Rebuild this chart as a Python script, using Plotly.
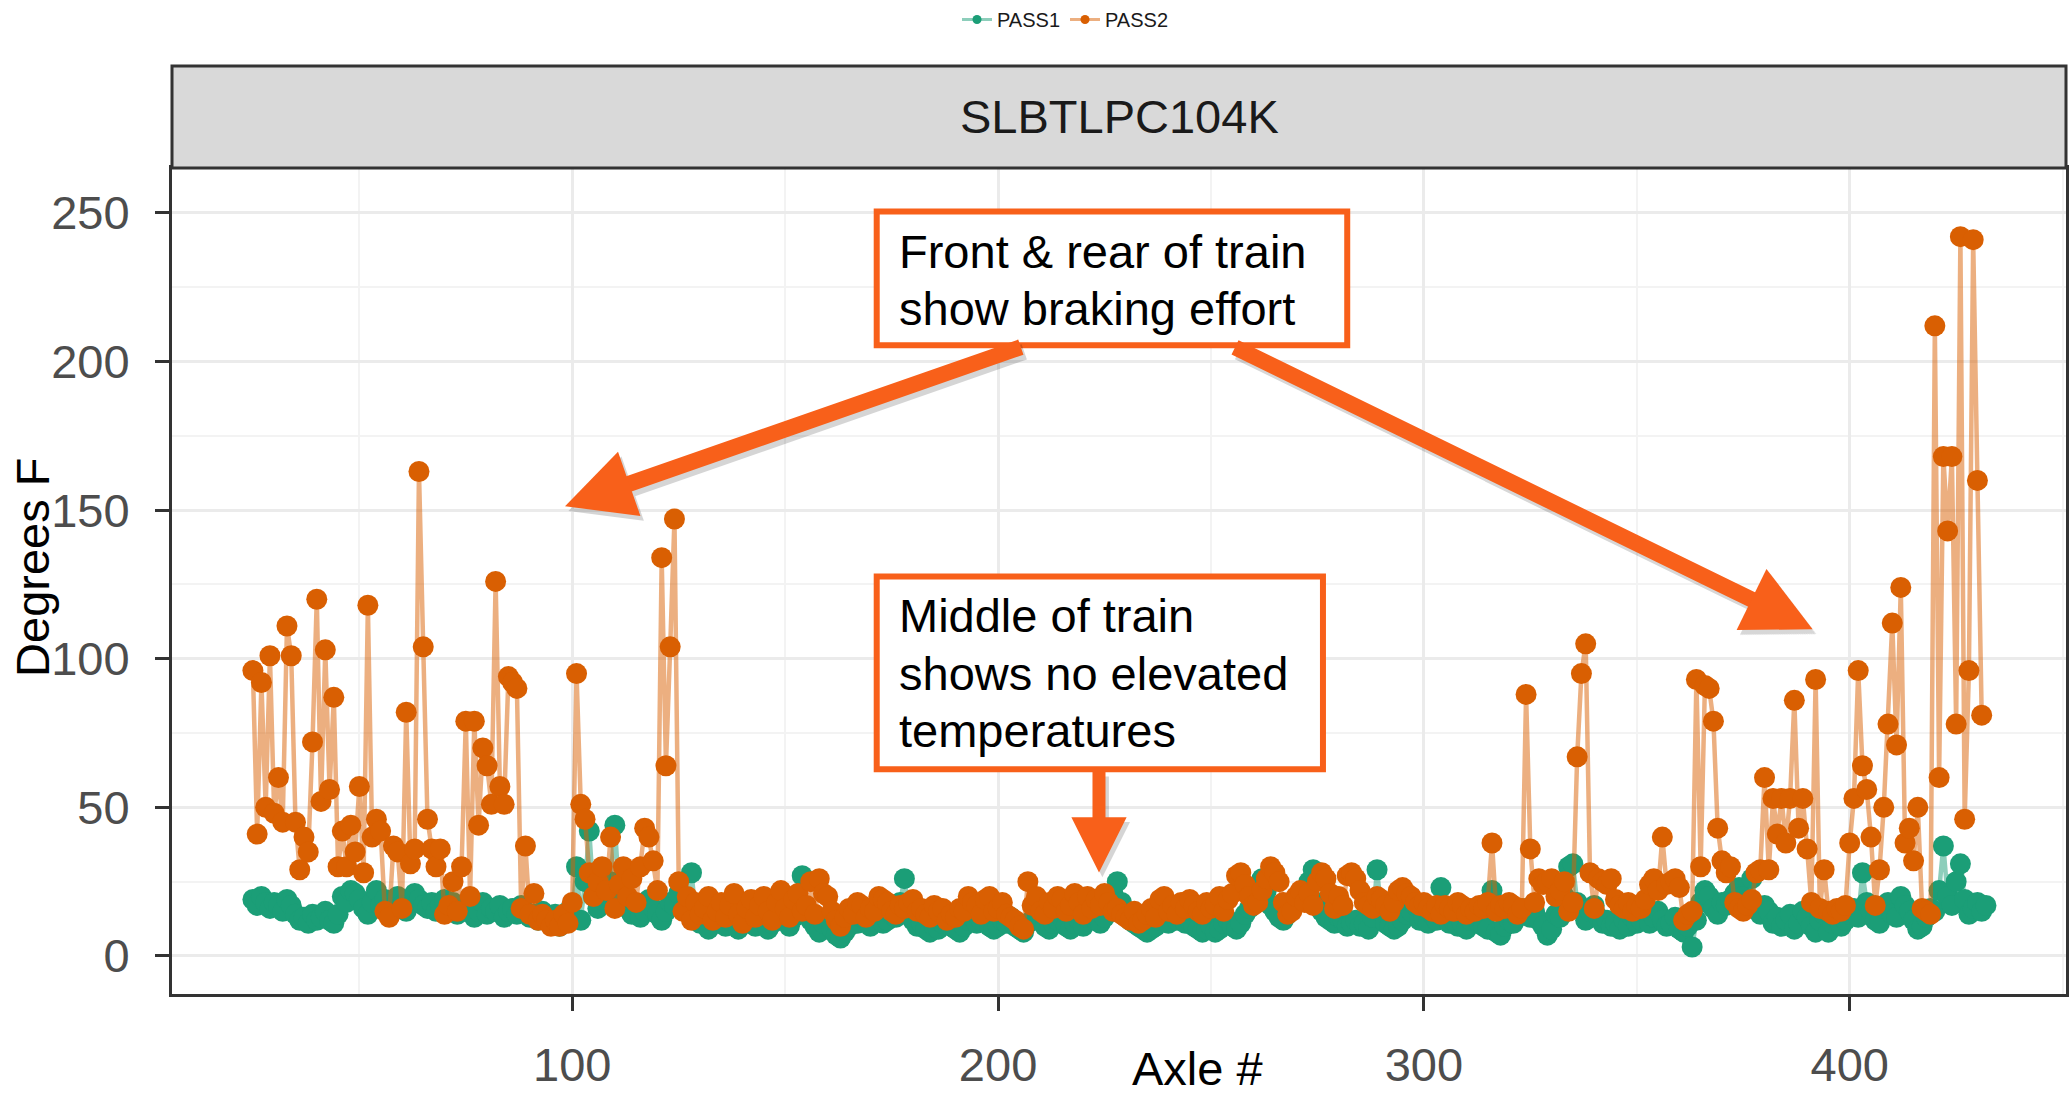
import plotly.graph_objects as go

# ---------------- data ----------------
axles = list(range(25, 433))

pass1 = [
    19, 17, 20, 18, 16, 18, 17, 15, 19, 17,   # 25
    14, 12, 13, 11, 14, 12, 13, 15, 12, 11,   # 35
    14, 20, 18, 22, 21, 19, 16, 14, 18, 22,   # 45
    17, 19, 16, 18, 20, 17, 15, 18, 21, 19,   # 55
    17, 16, 18, 15, 17, 19, 16, 18, 14, 15,   # 65
    17, 16, 13, 15, 18, 14, 16, 15, 17, 13,   # 75
    15, 16, 14, 17, 15, 13, 14, 12, 15, 13,   # 85
    11, 14, 10, 12, 15, 13, 30, 12, 25, 42,   # 95
    20, 16, 19, 22, 25, 44, 21, 18, 16, 14,   # 105
    17, 13, 15, 19, 16, 14, 12, 15, 18, 17,   # 115
    21, 16, 19, 28, 14, 11, 13, 9, 12, 15,    # 125
    13, 10, 12, 14, 9, 11, 13, 12, 10, 14,    # 135
    12, 9, 11, 13, 15, 12, 10, 13, 14, 27,    # 145
    14, 12, 10, 8, 11, 13, 9, 7, 6, 8,        # 155
    10, 12, 11, 13, 12, 10, 14, 13, 11, 12,   # 165
    14, 13, 18, 26, 15, 12, 10, 11, 9, 8,     # 175
    10, 9, 11, 12, 10, 9, 8, 10, 12, 13,      # 185
    11, 12, 14, 10, 9, 10, 12, 11, 13, 10,    # 195
    9, 8, 11, 12, 14, 13, 10, 9, 11, 12,      # 205
    13, 10, 9, 11, 12, 10, 13, 14, 12, 11,    # 215
    13, 17, 21, 25, 18, 14, 12, 11, 10, 9,    # 225
    8, 9, 10, 12, 13, 11, 14, 12, 13, 11,     # 235
    12, 10, 9, 8, 9, 10, 8, 9, 11, 12,        # 245
    10, 9, 11, 14, 16, 18, 20, 26, 22, 17,    # 255
    15, 13, 12, 14, 16, 18, 20, 22, 25, 29,   # 265
    18, 15, 13, 12, 11, 13, 12, 10, 11, 12,   # 275
    10, 11, 9, 13, 29, 15, 11, 10, 9, 10,     # 285
    12, 14, 15, 17, 12, 13, 11, 14, 12, 23,   # 295
    13, 11, 12, 10, 11, 9, 12, 13, 11, 10,    # 305
    9, 22, 8, 7, 10, 12, 11, 13, 14, 16,      # 315
    13, 15, 12, 10, 7, 9, 14, 13, 20, 30,     # 325
    31, 18, 16, 12, 15, 17, 13, 11, 12, 10,   # 335
    11, 9, 12, 10, 13, 11, 12, 14, 11, 13,    # 345
    15, 12, 10, 11, 13, 9, 8, 10, 3, 12,      # 355
    18, 22, 20, 16, 14, 18, 17, 19, 21, 23,   # 365
    20, 18, 26, 16, 14, 17, 15, 11, 13, 10,   # 375
    12, 14, 9, 11, 15, 13, 10, 8, 12, 14,     # 385
    8, 11, 13, 10, 12, 14, 16, 13, 28, 18,    # 395
    15, 12, 11, 16, 18, 14, 13, 20, 17, 15,   # 405
    12, 9, 10, 13, 16, 15, 22, 37, 20, 17,    # 415
    25, 31, 19, 14, 16, 18, 15, 17,           # 425
]

pass2 = [
    96, 41, 92, 50, 101, 48, 60, 45, 111, 101,   # 25
    45, 29, 40, 35, 72, 120, 52, 103, 56, 87,    # 35
    30, 42, 30, 44, 35, 57, 28, 118, 40, 46,     # 45
    42, 15, 13, 37, 35, 16, 82, 31, 36, 163,     # 55
    104, 46, 36, 30, 36, 14, 17, 25, 15, 30,     # 65
    79, 20, 79, 44, 70, 64, 51, 126, 57, 51,     # 75
    94, 92, 90, 16, 37, 14, 21, 12, 14, 12,      # 85
    10, 12, 10, 14, 11, 18, 95, 51, 46, 28,      # 95
    20, 25, 30, 22, 40, 16, 24, 30, 20, 26,      # 105
    18, 30, 43, 40, 32, 22, 134, 64, 104, 147,   # 115
    25, 15, 20, 12, 18, 14, 16, 20, 12, 15,      # 125
    18, 13, 17, 21, 14, 11, 16, 19, 13, 17,      # 135
    20, 15, 12, 18, 22, 16, 13, 19, 21, 15,      # 145
    17, 25, 14, 26, 21, 20, 15, 12, 10, 13,      # 155
    16, 14, 18, 17, 13, 16, 15, 20, 19, 18,      # 165
    15, 14, 17, 16, 18, 19, 15, 16, 14, 13,      # 175
    17, 15, 16, 12, 14, 13, 16, 15, 20, 18,      # 185
    17, 14, 19, 20, 15, 16, 18, 14, 13, 12,      # 195
    10, 9, 25, 17, 20, 15, 14, 18, 16, 20,       # 205
    19, 15, 17, 21, 18, 14, 20, 16, 19, 17,      # 215
    21, 18, 15, 16, 14, 13, 12, 15, 11, 12,      # 225
    14, 16, 13, 19, 20, 15, 17, 14, 18, 16,      # 235
    19, 17, 15, 14, 18, 16, 17, 20, 15, 19,      # 245
    21, 27, 28, 24, 20, 17, 18, 22, 26, 30,      # 255
    28, 25, 18, 14, 15, 20, 22, 18, 21, 17,      # 265
    25, 28, 26, 21, 16, 20, 17, 27, 28, 26,      # 275
    22, 18, 17, 16, 20, 19, 17, 15, 18, 22,      # 285
    23, 21, 20, 18, 17, 18, 16, 15, 17, 14,      # 295
    17, 16, 15, 18, 17, 14, 16, 15, 17, 16,      # 305
    18, 38, 15, 17, 16, 18, 17, 14, 16, 88,      # 315
    36, 18, 26, 24, 25, 26, 20, 22, 25, 15,      # 325
    18, 67, 95, 105, 28, 16, 26, 25, 24, 26,     # 335
    19, 17, 16, 18, 15, 17, 16, 19, 24, 26,      # 345
    22, 40, 24, 25, 26, 23, 12, 14, 15, 93,      # 355
    30, 91, 90, 79, 43, 32, 28, 30, 18, 16,      # 365
    15, 17, 19, 28, 29, 60, 29, 53, 41, 53,      # 375
    38, 53, 86, 43, 53, 36, 18, 93, 16, 29,      # 385
    15, 14, 16, 15, 17, 38, 53, 96, 64, 56,      # 395
    40, 17, 29, 50, 78, 112, 71, 124, 38, 43,    # 405
    32, 50, 16, 15, 14, 212, 60, 168, 143, 168,  # 415
    78, 242, 46, 96, 241, 160, 81,               # 425
]

series_names = ["PASS1", "PASS2"]
x_ticks = [100, 200, 300, 400]
y_ticks = [0, 50, 100, 150, 200, 250]
facet_label = "SLBTLPC104K"

# ---------------- styling ----------------
GREEN = "#1B9E77"
ORANGE = "#D95F02"
ARROW = "#F8601A"
FONT = "Liberation Sans, Arial, sans-serif"

fig = go.Figure()

for name, vals, col, lcol in [
    (series_names[0], pass1, GREEN, "rgba(27,158,119,0.5)"),
    (series_names[1], pass2, ORANGE, "rgba(217,95,2,0.5)"),
]:
    fig.add_trace(go.Scatter(
        x=axles[:len(vals)], y=vals, mode="lines+markers", name=name,
        line=dict(color=lcol, width=4.5),
        marker=dict(color=col, size=21, line=dict(width=0)),
        showlegend=False, hoverinfo="skip",
    ))

# legend-only entries (small symbols like the original)
for name, col, lcol in [(series_names[0], GREEN, "rgba(27,158,119,0.5)"),
                        (series_names[1], ORANGE, "rgba(217,95,2,0.5)")]:
    fig.add_trace(go.Scatter(
        x=[None], y=[None], mode="lines+markers", name=name,
        line=dict(color=lcol, width=3),
        marker=dict(color=col, size=9),
    ))

# ---------------- annotation boxes ----------------
fig.add_shape(type="rect", xref="x", yref="y", x0=171.5, x1=282.0, y0=205.5, y1=250.5,
              line=dict(color=ARROW, width=6), fillcolor="white", layer="above")
fig.add_shape(type="rect", xref="x", yref="y", x0=171.5, x1=276.3, y0=62.8, y1=127.7,
              line=dict(color=ARROW, width=6), fillcolor="white", layer="above")

# facet strip
fig.add_shape(type="rect", xref="paper", yref="paper", x0=0, x1=1, y0=1.0, y1=1.1236,
              line=dict(color="#333333", width=3), fillcolor="#D9D9D9", layer="above")

annotations = []

# arrows: shadows first, then arrows
arrows = [
    # (tip_x, tip_y, tail_x, tail_y, shaft width)
    (98.3, 151.3, 205.7, 205.0, 16),
    (391.3, 109.9, 255.3, 205.0, 16),
    (223.7, 28.1, 223.7, 62.5, 13),
]
for tx, ty, ax, ay, w in arrows:
    annotations.append(dict(
        x=tx + 0.8, y=ty - 1.6, ax=ax + 0.8, ay=ay - 1.6, xref="x", yref="y", axref="x", ayref="y",
        text="", showarrow=True, arrowhead=2, arrowsize=0.85, arrowwidth=w,
        arrowcolor="rgba(0,0,0,0.16)", standoff=0, startstandoff=0,
    ))
for tx, ty, ax, ay, w in arrows:
    annotations.append(dict(
        x=tx, y=ty, ax=ax, ay=ay, xref="x", yref="y", axref="x", ayref="y",
        text="", showarrow=True, arrowhead=2, arrowsize=0.85, arrowwidth=w,
        arrowcolor=ARROW, standoff=0, startstandoff=0,
    ))

box_lines = [
    ("Front & rear of train", 237.0),
    ("show braking effort", 217.8),
    ("Middle of train", 114.5),
    ("shows no elevated", 94.9),
    ("temperatures", 75.8),
]
for txt, yv in box_lines:
    annotations.append(dict(
        x=176.2, y=yv, xref="x", yref="y", text=txt, showarrow=False,
        xanchor="left", yanchor="middle", font=dict(family=FONT, size=47, color="black"),
    ))

# strip text
annotations.append(dict(
    x=0.5, y=1.0618, xref="paper", yref="paper", text=facet_label, showarrow=False,
    xanchor="center", yanchor="middle", font=dict(family=FONT, size=47, color="#1A1A1A"),
))
# axis titles
annotations.append(dict(
    x=-0.0733, y=0.516, xref="paper", yref="paper", text="Degrees F", showarrow=False,
    textangle=-90, xanchor="center", yanchor="middle",
    font=dict(family=FONT, size=47, color="black"),
))
annotations.append(dict(
    x=0.5414, y=-0.1245, xref="paper", yref="paper", text="Axle #", showarrow=False,
    xanchor="center", yanchor="bottom", font=dict(family=FONT, size=47, color="black"),
))

fig.update_layout(
    width=2072, height=1098,
    margin=dict(l=172, r=3, t=168, b=104),
    paper_bgcolor="white", plot_bgcolor="white",
    font=dict(family=FONT),
    annotations=annotations,
    legend=dict(
        orientation="h", xref="container", yref="container",
        x=0.514, y=1.0, xanchor="center", yanchor="top",
        font=dict(family=FONT, size=20, color="#1A1A1A"),
        bgcolor="rgba(0,0,0,0)", itemwidth=30,
    ),
    xaxis=dict(
        range=[6, 450.8], tickvals=x_ticks, ticks="outside", ticklen=14, tickwidth=3,
        tickcolor="#333333", showline=True, linecolor="#333333", linewidth=3, mirror=True,
        showgrid=True, gridcolor="#EBEBEB", gridwidth=3, zeroline=False,
        minor=dict(showgrid=True, gridcolor="#F3F3F3", gridwidth=2, tickvals=[50, 150, 250, 350, 450]),
        tickfont=dict(family=FONT, size=47, color="#4D4D4D"), ticklabelstandoff=14,
    ),
    yaxis=dict(
        range=[-12.8, 265.1], tickvals=y_ticks, ticks="outside", ticklen=14, tickwidth=3,
        tickcolor="#333333", showline=True, linecolor="#333333", linewidth=3, mirror=True,
        showgrid=True, gridcolor="#EBEBEB", gridwidth=3, zeroline=False,
        minor=dict(showgrid=True, gridcolor="#F3F3F3", gridwidth=2, tickvals=[25, 75, 125, 175, 225]),
        tickfont=dict(family=FONT, size=47, color="#4D4D4D"), ticklabelstandoff=16,
    ),
)

fig.write_html("out.html")
